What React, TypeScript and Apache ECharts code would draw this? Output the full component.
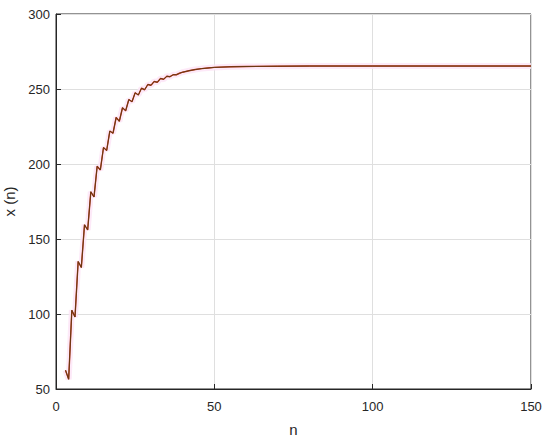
import React, { useEffect, useRef } from "react";
import * as echarts from "echarts";

const nValues = [3, 4, 5, 6, 7, 8, 9, 10, 11, 12, 13, 14, 15, 16, 17, 18, 19, 20, 21, 22, 23, 24, 25, 26, 27, 28, 29, 30, 31, 32, 33, 34, 35, 36, 37, 38, 39, 40, 42, 44, 46, 48, 50, 55, 60, 70, 80, 100, 150];
const xValues = [62.5, 56.5, 102.5, 98, 135, 131, 159.5, 156, 181.5, 178, 198.5, 196, 211, 209, 222, 220.5, 231, 228.5, 237.5, 235.5, 243, 241.5, 247.5, 246, 250.5, 249.5, 253, 252.5, 255, 254.5, 257, 256.5, 258.5, 258.2, 259.5, 259.5, 260.5, 261.2, 262.2, 263, 263.6, 264, 264.4, 264.8, 265, 265.2, 265.3, 265.3, 265.3];
const xTicks = [0, 50, 100, 150];
const yTicks = [50, 100, 150, 200, 250, 300];

export default function App() {
  const ref = useRef<HTMLDivElement>(null);
  useEffect(() => {
    const chart = echarts.init(ref.current!, null, { renderer: "svg" });
    const data = nValues.map((n, i) => [n, xValues[i]]);
    const font = "'Liberation Sans', Arial, sans-serif";
    chart.setOption({
      animation: false,
      backgroundColor: "#ffffff",
      grid: {
        left: 56, top: 14, width: 475, height: 375,
        containLabel: false, outerBoundsMode: "none",
        show: true, borderColor: "#262626", borderWidth: 1, backgroundColor: "transparent",
      },
      xAxis: {
        type: "value",
        min: xTicks[0],
        max: xTicks[xTicks.length - 1],
        interval: 50,
        name: "n",
        nameLocation: "middle",
        nameGap: 33,
        nameTextStyle: { color: "#262626", fontSize: 15, fontFamily: font },
        axisLine: { show: true, lineStyle: { color: "#262626", width: 1 } },
        axisTick: { show: true, inside: true, length: 5, lineStyle: { color: "#262626" } },
        axisLabel: { color: "#262626", fontSize: 13, fontFamily: font, margin: 11 },
        splitLine: { show: true, lineStyle: { color: "#dfdfdf", width: 1 } },
      },
      yAxis: {
        type: "value",
        min: yTicks[0],
        max: yTicks[yTicks.length - 1],
        interval: 50,
        name: "x (n)",
        nameLocation: "middle",
        nameGap: 28,
        nameRotate: 90,
        nameTextStyle: { color: "#262626", fontSize: 15, fontFamily: font },
        axisLine: { show: true, lineStyle: { color: "#262626", width: 1 } },
        axisTick: { show: true, inside: true, length: 5, lineStyle: { color: "#262626" } },
        axisLabel: { color: "#262626", fontSize: 13, fontFamily: font, margin: 6 },
        splitLine: { show: true, lineStyle: { color: "#dfdfdf", width: 1 } },
      },
      series: [
        {
          type: "line",
          data,
          showSymbol: false,
          lineStyle: { color: "#fce3f6", width: 6, opacity: 0.8 },
          silent: true,
          z: 1,
        },
        {
          type: "line",
          data,
          showSymbol: false,
          lineStyle: { color: "#c03a1e", width: 1.4 },
          silent: true,
          z: 2,
        },
        {
          type: "line",
          data,
          showSymbol: false,
          lineStyle: { color: "#653812", width: 1 },
          z: 3,
        },
      ],
    });
    return () => chart.dispose();
  }, []);
  return <div ref={ref} style={{ width: 550, height: 439, position: "absolute", left: 0, top: 0 }} />;
}
